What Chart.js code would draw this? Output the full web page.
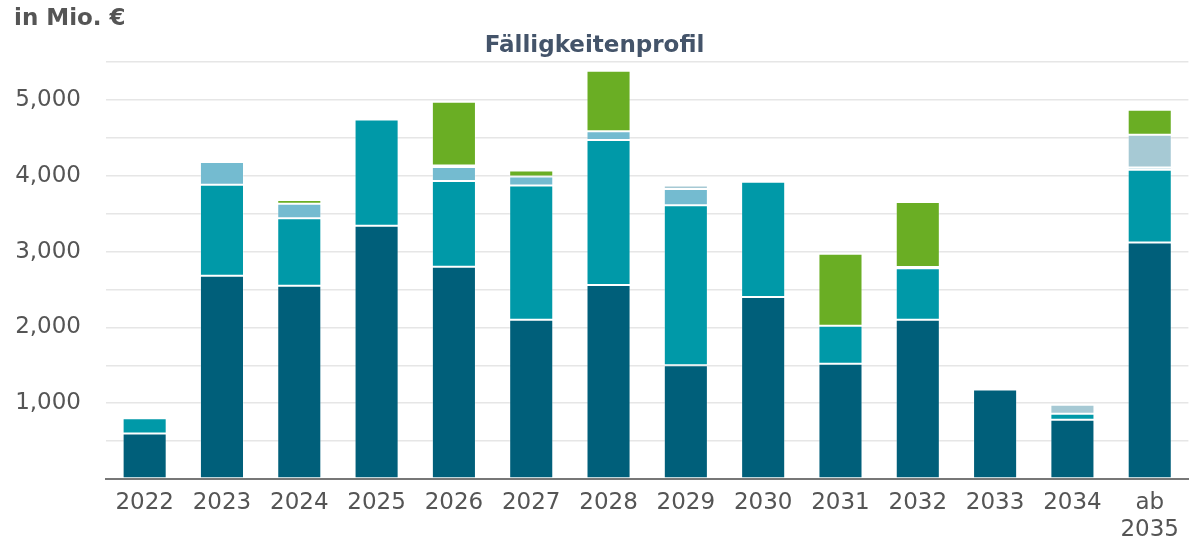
<!DOCTYPE html>
<html>
<head>
<meta charset="utf-8">
<script src="https://cdn.jsdelivr.net/npm/chart.js@4"></script>
<style>
  html, body { margin: 0; padding: 0; background: #fff; }
  #wrap { width: 1189px; height: 541px; position: relative; }
</style>
</head>
<body>
<div id="wrap"><canvas id="profilChart"></canvas></div>
<script>
// Fälligkeiten in Mio. € je Jahr
var jahre = ['2022', '2023', '2024', '2025', '2026', '2027', '2028', '2029', '2030', '2031', '2032', '2033', '2034', ['ab', '2035']];
var serieDunkel = [600, 2680, 2550, 3340, 2800, 2100, 2560, 1500, 2400, 1520, 2100, 1180, 780, 3120];
var serieTuerkis = [200, 1200, 890, 1400, 1130, 1770, 1910, 2110, 1520, 500, 680, 0, 80, 960];
var serieHellblau = [0, 300, 190, 0, 185, 120, 115, 215, 0, 0, 15, 0, 0, 30];
var serieBlass = [0, 25, 0, 15, 20, 0, 0, 45, 25, 0, 0, 0, 120, 430];
var serieGruen = [0, 0, 50, 0, 840, 80, 800, 0, 0, 950, 860, 0, 0, 330];
var yTicks = [1000, 2000, 3000, 4000, 5000];

Chart.defaults.font.family = "'DejaVu Sans', Verdana, sans-serif";

// Titel und Einheit selbst zeichnen
const textPlugin = {
    id: 'texte',
    afterDraw(chart) {
        const ctx = chart.ctx;
        ctx.save();
        ctx.font = "bold 23px 'DejaVu Sans'";
        ctx.textBaseline = 'middle';
        ctx.fillStyle = '#555555';
        ctx.textAlign = 'left';
        ctx.fillText('in Mio. €', 14, 19);
        ctx.fillStyle = '#44546a';
        ctx.textAlign = 'center';
        ctx.fillText('Fälligkeitenprofil', chart.width / 2, 46);
        ctx.restore();
    }
};

function ds(label, data, color) {
    return {
        label: label,
        data: data,
        backgroundColor: color,
        borderColor: 'rgba(255,255,255,0.3)',
        borderWidth: 1,
        borderSkipped: false
    };
}

new Chart(document.getElementById('profilChart'), {
    type: 'bar',
    data: {
        labels: jahre,
        datasets: [
            ds('Serie 1', serieDunkel, '#005f7a'),
            ds('Serie 2', serieTuerkis, '#0099a8'),
            ds('Serie 3', serieHellblau, '#74bbd0'),
            ds('Serie 4', serieBlass, '#a6c9d4'),
            ds('Serie 5', serieGruen, '#6aae24')
        ]
    },
    options: {
        responsive: true,
        maintainAspectRatio: false,
        animation: false,
        layout: { padding: { top: 62, left: 12, right: 0, bottom: 0 } },
        datasets: { bar: { categoryPercentage: 1, barPercentage: 0.57 } },
        scales: {
            x: {
                stacked: true,
                grid: { display: false, drawTicks: false },
                border: { display: true, color: '#777777', width: 2 },
                ticks: { color: '#555555', font: { size: 23 }, padding: 10, maxRotation: 0 },
                afterFit: function (scale) { scale.height = 62; }
            },
            y: {
                stacked: true,
                min: 0,
                max: 5500,
                grid: { color: '#e6e6e6', lineWidth: 1.5, drawTicks: false },
                border: { display: false },
                ticks: {
                    stepSize: 500,
                    color: '#555555',
                    font: { size: 23 },
                    padding: 25,
                    callback: function (v) {
                        return yTicks.includes(v) ? v.toLocaleString('en-US') : '';
                    }
                },
                afterFit: function (scale) { scale.width = 94; }
            }
        },
        plugins: {
            legend: { display: false },
            tooltip: { enabled: false }
        }
    },
    plugins: [textPlugin]
});
</script>
</body>
</html>
